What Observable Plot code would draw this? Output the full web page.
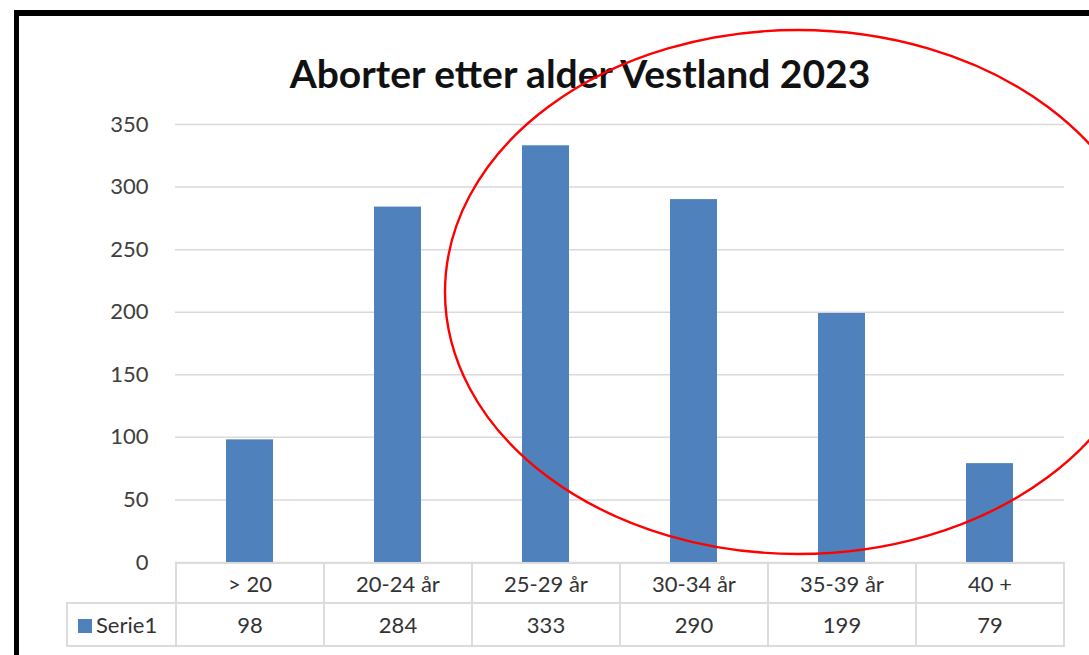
<!DOCTYPE html>
<html><head><meta charset="utf-8">
<script src="https://cdn.jsdelivr.net/npm/d3@7"></script>
<script src="https://cdn.jsdelivr.net/npm/@observablehq/plot@0.6"></script>
<style>
html,body{margin:0;padding:0;background:#fff;}
body{width:1089px;height:655px;overflow:hidden;position:relative;font-family:Lato,"Noto Sans",sans-serif;}
#frame{position:absolute;left:14px;top:10px;width:1100px;height:700px;border-left:5px solid #000;border-top:6px solid #000;box-sizing:border-box;}
#title{position:absolute;left:180px;width:800px;top:50px;text-align:center;font-size:39px;font-weight:bold;color:#111;line-height:46px;}
#chart{position:absolute;left:0;top:0;}
#tbl{position:absolute;left:66px;top:562px;border-collapse:collapse;font-size:22px;color:#333;}
#tbl td{border:2px solid #dcdcdc;text-align:center;padding:0;box-sizing:border-box;}
#tbl td.empty{border-top:none;border-left:none;}
#overlay{position:absolute;left:0;top:0;pointer-events:none;}
</style></head>
<body>
<div id="frame"></div>
<div id="chart"></div>
<div id="title"></div>
<table id="tbl"></table>
<svg id="overlay" width="1089" height="655"><ellipse cx="798" cy="292" rx="353" ry="262" fill="none" stroke="#ff0000" stroke-width="2.4"/></svg>
<script>
const titleText = "Aborter etter alder Vestland 2023";
const categories = ["> 20", "20-24 år", "25-29 år", "30-34 år", "35-39 år", "40 +"];
const values = [98, 284, 333, 290, 199, 79];
const yTicks = [0, 50, 100, 150, 200, 250, 300, 350];
const seriesName = "Serie1";
const barColor = "#4f81bd";

document.getElementById("title").textContent = titleText;
const data = categories.map((c, i) => ({category: c, value: values[i]}));

const plot = Plot.plot({
  width: 1089, height: 585,
  marginLeft: 175, marginRight: 25, marginTop: 124, marginBottom: 23,
  style: {fontFamily: "Lato, 'Noto Sans', sans-serif", background: "transparent"},
  x: {domain: categories, paddingInner: 0.68, paddingOuter: 0.34, axis: null},
  y: {domain: [0, 350], axis: null},
  marks: [
    Plot.gridY(yTicks, {stroke: "#d9d9d9", strokeOpacity: 1, strokeWidth: 1.5}),
    Plot.axisY(yTicks, {tickSize: 0, tickPadding: 27, fontSize: 22, fill: "#404040", label: null}),
    Plot.barY(data, {x: "category", y: "value", fill: barColor})
  ]
});
document.getElementById("chart").appendChild(plot);

const xs = plot.scale("x");
const step = xs.step;
const firstLeft = 175;
const legendW = firstLeft - 66;
const tbl = document.getElementById("tbl");
const r1 = tbl.insertRow();
const e = r1.insertCell(); e.className = "empty"; e.style.width = legendW + "px"; e.style.height = "40px";
categories.forEach(c => { const td = r1.insertCell(); td.textContent = c; td.style.width = step + "px"; td.style.height = "40px"; });
const r2 = tbl.insertRow();
const lg = r2.insertCell(); lg.style.textAlign = "left"; lg.style.height = "43px"; lg.style.whiteSpace = "nowrap";
lg.innerHTML = `<span style="display:inline-block;width:14px;height:14px;background:${barColor};margin-left:10px;margin-right:4px;vertical-align:0px"></span>${seriesName}`;
values.forEach(v => { const td = r2.insertCell(); td.textContent = v; });
</script>
</body></html>
